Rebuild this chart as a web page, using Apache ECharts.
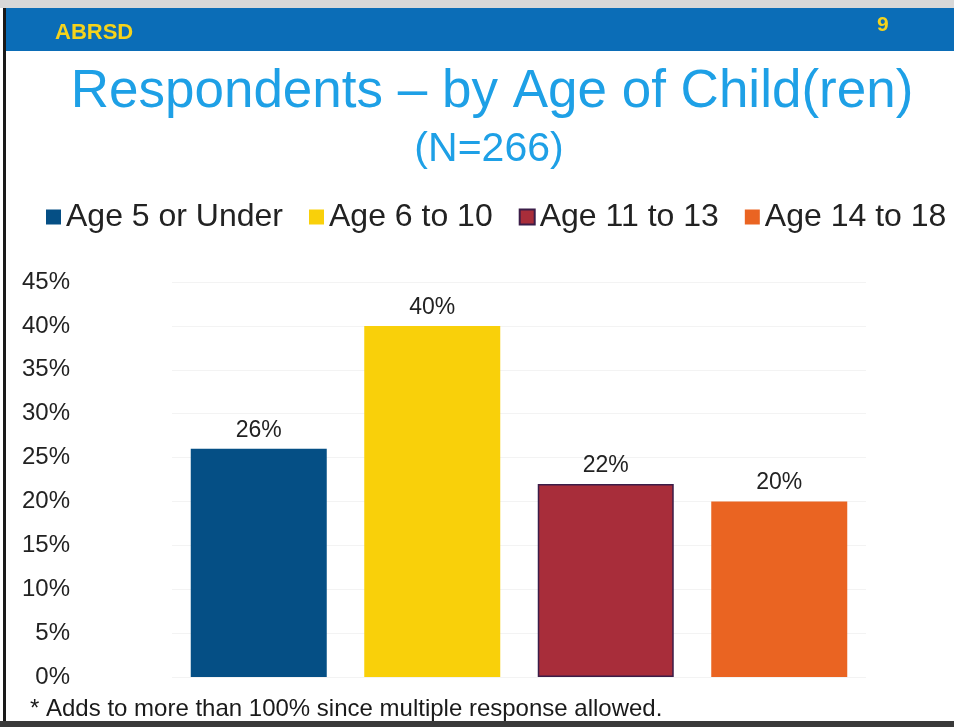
<!DOCTYPE html>
<html>
<head>
<meta charset="utf-8">
<script src="https://cdn.jsdelivr.net/npm/echarts@6/dist/echarts.min.js"></script>
<style>html,body{margin:0;padding:0;background:#fff}#c{width:954px;height:727px}</style>
</head>
<body>
<div id="c"></div>
<script>
const categories = ['Age 5 or Under', 'Age 6 to 10', 'Age 11 to 13', 'Age 14 to 18'];
const values = [26, 40, 22, 20];
const colors = ['#054f85', '#f9d00a', '#a82d3a', '#ea6422'];
const yTicks = [0, 5, 10, 15, 20, 25, 30, 35, 40, 45];

const FONT = '"Liberation Sans", Arial, sans-serif';
const chart = echarts.init(document.getElementById('c'));

const series = categories.map((name, i) => ({
  name: name,
  type: 'bar',
  barWidth: 136,
  barGap: '-100%',
  itemStyle: i === 2 ? { color: colors[i], borderColor: '#3b1d48', borderWidth: 1.5 } : { color: colors[i] },
  label: {
    show: true, position: 'top', distance: 7,
    formatter: p => p.value + '%',
    fontFamily: FONT, fontSize: 23, color: '#222'
  },
  data: categories.map((c, j) => j === i ? values[i] : '-')
}));

chart.setOption({
  animation: false,
  backgroundColor: '#ffffff',
  title: [
    { text: 'Respondents – by Age of Child(ren)', left: 487, top: 61, textAlign: 'center',
      textStyle: { fontFamily: FONT, fontSize: 53, fontWeight: 'normal', color: '#1ea0e6' } },
    { text: '(N=266)', left: 484, top: 124, textAlign: 'center',
      textStyle: { fontFamily: FONT, fontSize: 41, fontWeight: 'normal', color: '#1ea0e6' } }
  ],
  legend: {
    top: 201, left: 46, width: 908, padding: 0,
    itemWidth: 15, itemHeight: 15, itemGap: 26,
    icon: 'rect',
    textStyle: { fontFamily: FONT, fontSize: 32, color: '#222' },
    data: categories
  },
  grid: { left: 172, right: 88, top: 282, bottom: 50 },
  xAxis: {
    type: 'category', data: categories,
    axisLine: { show: false }, axisTick: { show: false }, axisLabel: { show: false },
    splitLine: { show: false }
  },
  yAxis: {
    type: 'value', min: 0, max: 45, interval: 5,
    axisLine: { show: false }, axisTick: { show: false },
    axisLabel: { formatter: v => yTicks.includes(v) ? v + '%' : '', margin: 102,
      fontFamily: FONT, fontSize: 24, color: '#222' },
    splitLine: { lineStyle: { color: '#f3f3f3', width: 1 } }
  },
  graphic: [
    { type: 'rect', shape: { x: 0, y: 0, width: 954, height: 8 }, style: { fill: '#d8d8d8' } },
    { type: 'rect', shape: { x: 3, y: 8, width: 951, height: 43 }, style: { fill: '#0b6db7' } },
    { type: 'text', left: 55, top: 22, style: { text: 'ABRSD', fontFamily: FONT, fontSize: 22, fontWeight: 'bold', fill: '#f5d31c' } },
    { type: 'text', left: 877, top: 15, style: { text: '9', fontFamily: FONT, fontSize: 21, fontWeight: 'bold', fill: '#f5d31c' } },
    { type: 'rect', shape: { x: 3, y: 8, width: 3, height: 719 }, style: { fill: '#1a1a1a' } },
    { type: 'rect', shape: { x: 0, y: 721, width: 954, height: 6 }, style: { fill: '#3a3a3a' } },
    { type: 'text', left: 30, top: 697, style: { text: '* Adds to more than 100% since multiple response allowed.', fontFamily: FONT, fontSize: 24, fill: '#1a1a1a' } }
  ],
  series: series
});
</script>
</body>
</html>
